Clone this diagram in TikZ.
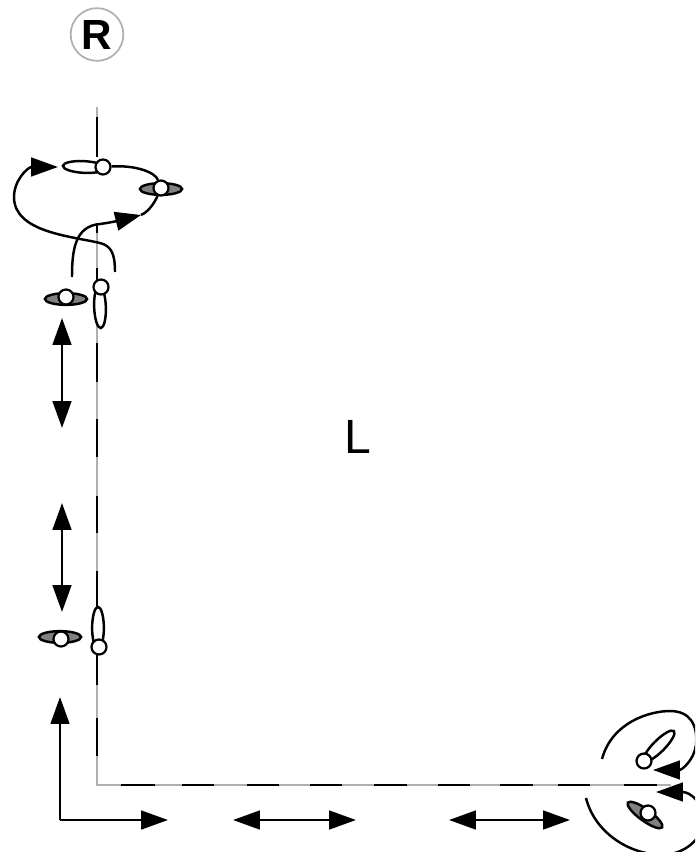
\documentclass[tikz,border=0pt]{standalone}
\usepackage{fontspec}
\setmainfont{Liberation Sans}
\usetikzlibrary{positioning}
\usetikzlibrary{shapes.geometric, arrows.meta}
\definecolor{gris}{HTML}{B0B0B0}
\definecolor{grisala}{HTML}{808080}

\begin{document}
\begin{tikzpicture}[x=0.03cm,y=-0.03cm,
    linea/.style={line width=2.1pt},
    guia/.style={gris,line width=2.1pt},
    flecha/.style={line width=2.1pt,-{Triangle[length=23pt,width=16pt]}},
    doble/.style={line width=2.1pt,{Triangle[length=23pt,width=16pt]}-{Triangle[length=23pt,width=16pt]}},
    ala/.style={ellipse,draw=black,line width=2.1pt,inner sep=0pt,minimum width=36pt,minimum height=10pt},
    alagris/.style={ala,fill=grisala},
    alablanca/.style={ala,fill=white},
    bola/.style={circle,draw=black,fill=white,line width=1.9pt,inner sep=0pt,minimum size=12.8pt}]
    \useasboundingbox (0,0) rectangle (695,852);
    \clip (0,0) rectangle (695,852);

    % Circulo R
    \node[circle,draw=gris,line width=1.5pt,inner sep=0pt,minimum size=45pt,font=\fontsize{36}{36}\selectfont\bfseries] (erre) at (97,34.5) {R};

    % Letra L
    \node[inner sep=0pt,font=\fontsize{41}{41}\selectfont] (ele) at (358,437) {L};

    % Guias grises
    \draw[guia] (97,107) -- (97,157);
    \draw[guia] (97,223) -- (97,785) -- (671,785);

    % Tramos negros
    \foreach \inicio/\fin in {117/157,223/233,268/285,343/382,419/457,496/533,571/608,653/685,718/756} {
        \draw[linea] (97,\inicio) -- (97,\fin);
    }
    \foreach \inicio/\fin in {121/155,182/214,247/279,310/342,374/407,438/470,500/533,558/590,624/657} {
        \draw[linea] (\inicio,785) -- (\fin,785);
    }

    % Flechas
    \coordinate (esquina) at (60,820);
    \coordinate (arriba) at (60,697);
    \coordinate (derecha) at (168,820);
    \draw[flecha] (esquina) -- (arriba);
    \draw[flecha] (esquina) -- (derecha);
    \coordinate (hunoa) at (233,820);
    \coordinate (hunob) at (356,820);
    \draw[doble] (hunoa) -- (hunob);
    \coordinate (hdosa) at (449,820);
    \coordinate (hdosb) at (570,820);
    \draw[doble] (hdosa) -- (hdosb);
    \coordinate (vunoa) at (62,318);
    \coordinate (vunob) at (62,428);
    \draw[doble] (vunoa) -- (vunob);
    \coordinate (vdosa) at (62,503);
    \coordinate (vdosb) at (62,612);
    \draw[doble] (vdosa) -- (vdosb);

    % Alas
    \node[alablanca,rotate=-3] (alauno) at (84,167) {};
    \node[alagris] (alados) at (161,189) {};
    \node[alagris] (alatres) at (66,299) {};
    \node[alablanca,rotate=92] (alacuatro) at (100,307) {};
    \node[alablanca,rotate=90] (alacinco) at (98,628) {};
    \node[alagris] (alaseis) at (60,637) {};
    \node[alablanca,rotate=45] (alasiete) at (659,746) {};
    \node[alagris,rotate=-36] (alaocho) at (645,815) {};

    % Bolas
    \node[bola] (bolauno) at (103,167) {};
    \node[bola] (bolados) at (161,188) {};
    \node[bola] (bolatres) at (66,297) {};
    \node[bola] (bolacuatro) at (101,287) {};
    \node[bola] (bolacinco) at (99,647) {};
    \node[bola] (bolaseis) at (61,639) {};
    \node[bola] (bolasiete) at (644,761) {};
    \node[bola] (bolaocho) at (648,813) {};

    % Curvas de arriba
    \coordinate (subeuno) at (72,277);
    \coordinate (subedos) at (115,272);
    \coordinate (puntauno) at (141,215);
    \coordinate (puntados) at (58,167);
    \draw[linea,-{Triangle[length=22pt,width=16pt]}] (subeuno) .. controls (72,250) and (75,226) .. (100,224)
        .. controls (115,222) and (125,219) .. (puntauno);
    \draw[linea] (puntauno) .. controls (148,212) and (154,204) .. (bolados);
    \draw[linea] (bolados) .. controls (155,172) and (135,165) .. (bolauno);
    \draw[flecha] (subedos) .. controls (115,255) and (112,246) .. (100,243)
        .. controls (70,236) and (14,232) .. (14,197)
        .. controls (14,180) and (28,167) .. (puntados);

    % Curvas de la esquina
    \coordinate (finuno) at (602,759);
    \coordinate (puntatres) at (653,770);
    \coordinate (fintres) at (586,798);
    \coordinate (puntacuatro) at (656,792);
    \draw[flecha] (finuno) .. controls (612,722) and (650,711) .. (670,711)
        .. controls (690,711) and (698,725) .. (696,745)
        .. controls (694,760) and (682,770) .. (puntatres);
    \draw[flecha] (705,815) .. controls (702,805) and (692,792) .. (puntacuatro);
    \draw[linea] (fintres) .. controls (594,830) and (625,853) .. (660,855)
        .. controls (680,855) and (695,845) .. (702,830);
\end{tikzpicture}
\end{document}
